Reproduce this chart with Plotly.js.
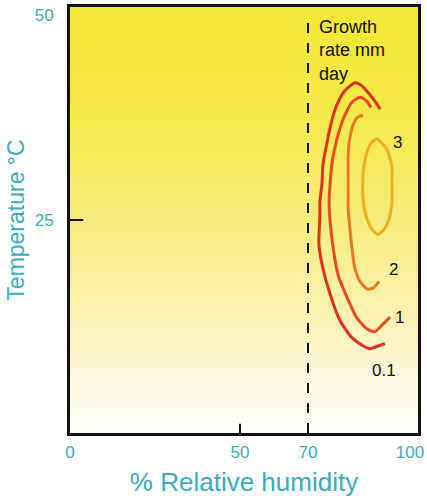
<!DOCTYPE html>
<html>
<head>
<meta charset="utf-8">
<script src="https://cdn.plot.ly/plotly-3.0.1.min.js"></script>
<style>
  html, body { margin: 0; padding: 0; background: #ffffff; }
  #wrap { position: relative; width: 427px; height: 499px; }
  #bg { position: absolute; left: 70px; top: 7px; width: 348px; height: 426px;
        background: linear-gradient(to bottom, #f2e834 0%, #f3ea48 25%, #f6ec7c 50%, #f9f2b0 72%, #fdf9e2 88%, #fffefa 100%); }
  #chart { position: absolute; left: 0; top: 0; width: 427px; height: 499px; }
</style>
</head>
<body>
<div id="wrap"><div id="bg"></div><div id="chart"></div></div>
<script>
// Growth-rate contours (x: % relative humidity, y: temperature °C)
const c01_x = [91.2, 90.3, 87.6, 85.3, 83.8, 80.9, 78.8, 77.1, 75.6, 74.4, 74.1, 73.5, 73.5, 73.2, 74.4, 76.5, 79.4, 82.9, 85.9, 88.2, 91.2, 92.6];
const c01_y = [38.0, 38.6, 40.0, 40.9, 41.1, 40.2, 38.8, 36.8, 34.1, 31.5, 29.3, 27.2, 25.6, 22.1, 19.3, 16.3, 13.2, 11.2, 10.3, 9.9, 10.3, 10.5];

const c1_x = [88.5, 87.1, 85.3, 82.9, 80.3, 78.5, 77.1, 76.5, 76.2, 76.5, 77.4, 78.8, 81.5, 84.4, 87.4, 89.7, 92.1, 94.1];
const c1_y = [38.2, 39.0, 39.4, 38.8, 36.8, 34.5, 31.8, 29.3, 27.2, 24.8, 21.7, 18.6, 15.9, 13.5, 12.2, 11.9, 12.8, 13.6];

const c2_x = [86.2, 84.7, 83.2, 82.1, 81.8, 81.8, 81.8, 81.8, 82.4, 82.9, 83.8, 85.3, 87.4, 89.1, 90.9];
const c2_y = [37.3, 37.1, 36.1, 34.1, 32.6, 30.7, 27.2, 26.3, 23.7, 21.7, 19.3, 17.8, 16.9, 17.0, 17.8];

const c3_x = [90.3, 93.2, 94.7, 94.7, 94.7, 93.8, 92.4, 90.6, 88.8, 87.1, 86.2, 86.2, 87.1, 88.5, 90.3];
const c3_y = [34.5, 33.3, 31.2, 29.5, 27.2, 25.1, 23.9, 23.3, 23.9, 25.4, 27.5, 30.3, 32.6, 34.0, 34.5];

const contourLabels = ["0.1", "1", "2", "3"];
const labelX = [92.4, 96.8, 95.0, 96.2];
const labelY = [7.3, 13.6, 19.2, 34.1];

const thresholdRH = 70;
const xTickVals = [0, 50, 70, 100];
const xTickText = ["0", "50", "70", "100"];
const yTickVals = [25, 49.1];
const yTickText = ["25", "50"];

const teal = '#3eaabb';
const font = 'Liberation Sans, Arial, sans-serif';

const line = (x, y, color) => ({
  type: 'scatter', mode: 'lines', x: x, y: y, hoverinfo: 'skip',
  line: { color: color, width: 3, shape: 'spline', smoothing: 0.6 }, showlegend: false
});

const data = [
  { type: 'scatter', mode: 'lines', x: [thresholdRH, thresholdRH], y: [0, 49.2],
    line: { color: '#111', width: 2, dash: '10px,10px' }, showlegend: false, hoverinfo: 'skip' },
  line(c01_x, c01_y, '#e0321e'),
  line(c1_x, c1_y, '#e64c1e'),
  line(c2_x, c2_y, '#ea7a26'),
  line(c3_x, c3_y, '#f0b024')
];

const annotations = contourLabels.map((t, i) => ({
  x: labelX[i], y: labelY[i], xref: 'x', yref: 'y', text: t, showarrow: false,
  font: { family: font, size: 17, color: '#111' }
}));
annotations.push({
  x: 72.5, y: 49.1, xref: 'x', yref: 'y', xanchor: 'left', yanchor: 'top', align: 'left',
  text: 'Growth<br>rate mm<br>day', showarrow: false,
  font: { family: font, size: 18, color: '#111' }
});

const layout = {
  width: 427, height: 499,
  margin: { l: 70, r: 9, t: 7, b: 66 },
  paper_bgcolor: 'rgba(0,0,0,0)', plot_bgcolor: 'rgba(0,0,0,0)',
  showlegend: false,
  xaxis: {
    range: [0, 102.35], tickvals: xTickVals, ticktext: xTickText, ticks: '',
    showgrid: false, zeroline: false, showline: true, linecolor: '#111', linewidth: 3, mirror: true,
    tickfont: { family: font, size: 17, color: teal }, ticklabelstandoff: 2,
    title: { text: '% Relative humidity', font: { family: font, size: 26, color: teal }, standoff: 12 }
  },
  yaxis: {
    range: [0, 50], tickvals: yTickVals, ticktext: yTickText, ticks: '',
    showgrid: false, zeroline: false, showline: true, linecolor: '#111', linewidth: 3, mirror: true,
    tickfont: { family: font, size: 17, color: teal }, ticklabelstandoff: 10,
    title: { text: 'Temperature °C', font: { family: font, size: 23, color: teal }, standoff: 4 }
  },
  shapes: [
    { type: 'line', xref: 'x', yref: 'paper', x0: 50, x1: 50, y0: 0, y1: 0.022, line: { color: '#111', width: 2 } },
    { type: 'line', xref: 'paper', yref: 'y', x0: 0, x1: 0.038, y0: 25, y1: 25, line: { color: '#111', width: 2 } }
  ],
  annotations: annotations
};

Plotly.newPlot('chart', data, layout, { displayModeBar: false, staticPlot: true });
</script>
</body>
</html>
